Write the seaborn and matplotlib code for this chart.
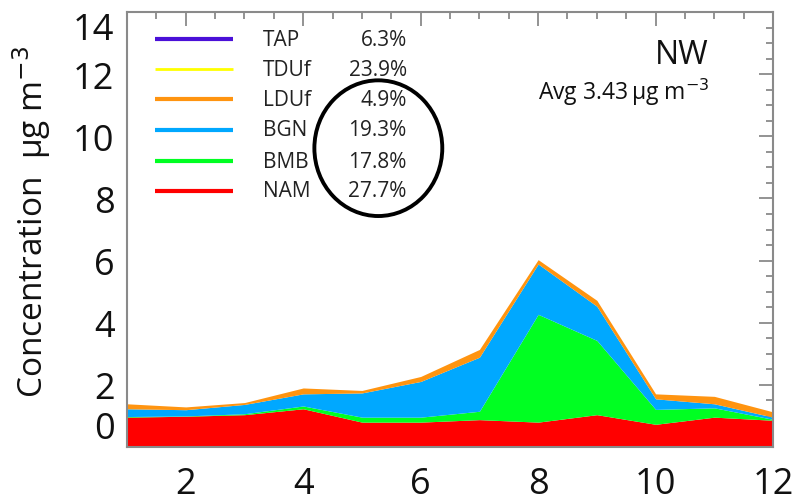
import numpy as np
import pandas as pd
import seaborn as sns
import matplotlib
matplotlib.use("Agg")
import matplotlib.pyplot as plt
from matplotlib.patches import Ellipse
from matplotlib.ticker import MultipleLocator

# ---- data ----
months = [1, 2, 3, 4, 5, 6, 7, 8, 9, 10, 11, 12]
NAM = [0.96, 0.99, 1.04, 1.23, 0.80, 0.80, 0.88, 0.80, 1.04, 0.73, 0.96, 0.86]
BMB = [0.02, 0.01, 0.03, 0.09, 0.16, 0.16, 0.27, 3.47, 2.39, 0.48, 0.30, 0.03]
BGN = [0.25, 0.20, 0.30, 0.39, 0.78, 1.15, 1.74, 1.62, 1.10, 0.34, 0.13, 0.07]
LDUf = [0.16, 0.09, 0.06, 0.19, 0.08, 0.16, 0.25, 0.14, 0.19, 0.16, 0.24, 0.17]

legend_names = ["TAP", "TDUf", "LDUf", "BGN", "BMB", "NAM"]
legend_pcts = ["6.3%", "23.9%", "4.9%", "19.3%", "17.8%", "27.7%"]
legend_colors = ["#4a10d8", "#ffff00", "#ff9410", "#00a8ff", "#00ff22", "#ff0000"]
legend_widths = [3.0, 2.0, 3.0, 3.0, 3.0, 3.0]

region = "NW"
avg_text = "Avg 3.43\u2009µg m$^{-3}$"
yticks = [0, 2, 4, 6, 8, 10, 12, 14]
xticks = [2, 4, 6, 8, 10, 12]

df = pd.DataFrame({"month": months, "NAM": NAM, "BMB": BMB, "BGN": BGN, "LDUf": LDUf})

sns.set_style("white")
plt.rcParams["font.family"] = ["Open Sans", "DejaVu Sans"]

fig = plt.figure(figsize=(7.94, 5.02), dpi=100)
ax = fig.add_axes([0.160, 0.1076, 0.8136, 0.8664])

stack_cols = ["NAM", "BMB", "BGN", "LDUf"]
stack_colors = ["#ff0000", "#00ff22", "#00a8ff", "#ff9410"]
ax.stackplot(df["month"], *[df[c] for c in stack_cols], colors=stack_colors,
             linewidth=0, zorder=1)

ax.set_xlim(1, 12)
ax.set_ylim(0, 14)
ax.set_xticks(xticks)
ax.set_xticklabels([str(t) for t in xticks])
ax.set_yticks(yticks)
ax.set_yticklabels([str(t) for t in yticks])
ax.xaxis.set_minor_locator(MultipleLocator(0.5))
ax.yaxis.set_minor_locator(MultipleLocator(0.5))

ax.tick_params(axis="both", which="both", direction="in", top=True, right=True,
               color="#808080", width=1.2, zorder=5)
ax.tick_params(axis="both", which="major", length=10)
ax.tick_params(axis="both", which="minor", length=5)
ax.tick_params(axis="x", which="major", labelsize=26, pad=14, labelcolor="#111111")
ax.tick_params(axis="y", which="major", labelsize=26, pad=9, labelcolor="#111111")

ylabels = ax.get_yticklabels()
ylabels[0].set_va("bottom")
ylabels[-1].set_va("top")

for s in ax.spines.values():
    s.set_color("#8a8a8a")
    s.set_linewidth(1.5)
    s.set_zorder(6)

ax.set_ylabel("Concentration  µg m$^{-3}$", fontsize=24, va="center", color="#111111")
ax.yaxis.set_label_coords(-0.148, 0.52)

# legend drawn inside the axes
row_y = [0.938, 0.869, 0.800, 0.729, 0.657, 0.589]
for name, pct, col, lw, yy in zip(legend_names, legend_pcts, legend_colors, legend_widths, row_y):
    ax.plot([0.043, 0.164], [yy, yy], color=col, lw=lw, transform=ax.transAxes,
            solid_capstyle="butt", zorder=4)
    ax.text(0.2105, yy, name, transform=ax.transAxes, fontsize=15, va="center",
            ha="left", color="#222222")
    ax.text(0.433, yy, pct, transform=ax.transAxes, fontsize=15, va="center",
            ha="right", color="#222222")

ax.text(0.859, 0.903, region, transform=ax.transAxes, fontsize=23, ha="center",
        va="center", color="#111111")
ax.text(0.769, 0.818, avg_text, transform=ax.transAxes, fontsize=16.5, ha="center",
        va="center", color="#111111")

circ = Ellipse((0.389, 0.687), 0.198, 0.312, transform=ax.transAxes,
               fill=False, edgecolor="black", lw=2.8, zorder=7)
ax.add_patch(circ)

fig.savefig("out.png", dpi=100)
